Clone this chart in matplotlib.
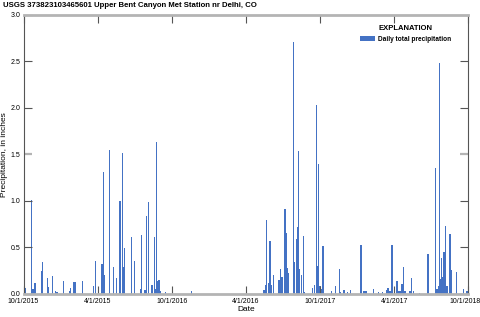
#!/usr/bin/env python3
"""Daily precipitation bar chart for Upper Bent Canyon Met Station."""

import matplotlib

matplotlib.use("Agg")
import matplotlib.pyplot as plt
import matplotlib.dates as mdates
import matplotlib.transforms as mtransforms
import numpy as np
import pandas as pd

START = pd.Timestamp("2015-10-01")

# days after 10/1/2015 with measurable precipitation
day_of_record = [
    1, 4, 19, 20, 23, 28, 45, 46, 59, 60, 72, 78, 82, 99, 113, 115, 123, 127,
    145, 172, 177, 193, 197, 200, 211, 212, 222, 229, 238, 243, 245, 249,
    266, 274, 288, 291, 299, 303, 308, 316, 317, 323, 326, 328, 330, 334,
    338, 349, 414,
    592, 596, 599, 604, 607, 610, 615, 629, 633, 637, 644, 647, 650, 653,
    665, 667, 674, 676, 678, 680, 684, 689, 691, 711, 716, 722, 725, 727,
    730, 733, 735, 738, 759, 768, 778, 780, 789, 798, 805,
    831, 833, 837, 841, 845, 862, 874, 884, 895, 898, 903, 907, 908, 913,
    920, 923, 927, 932, 936, 940, 952, 956, 960, 975, 996, 1014, 1018, 1022,
    1025, 1027, 1030, 1033, 1036, 1039, 1043, 1050, 1054, 1066, 1084, 1092,
]
precip_in = [
    0.18, 0.06, 0.98, 1.01, 0.05, 0.12, 0.25, 0.34, 0.17, 0.07, 0.19, 0.03, 0.02,
    0.14, 0.03, 0.06, 0.13, 0.13,
    0.14, 0.08, 0.35, 0.32, 1.31, 0.20, 1.55, 0.07, 0.29, 0.17, 1.00, 1.51, 0.29,
    0.49,
    0.61, 0.35, 0.05, 0.63, 0.04, 0.84, 0.99, 0.10, 0.05, 0.61, 0.05, 1.63, 0.14,
    0.15,
    0.03, 0.02, 0.03,
    0.04, 0.10, 0.79, 0.12, 0.57, 0.09, 0.20, 0.15, 0.27, 0.18, 0.91, 0.65, 0.28,
    0.22,
    2.71, 0.34, 0.59, 0.72, 1.54, 0.27, 0.20, 0.62, 0.02, 0.06, 0.10, 2.03, 0.30,
    1.40,
    0.08, 0.05, 0.03, 0.52, 0.03, 0.08, 0.27, 0.02, 0.04, 0.02, 0.04,
    0.53, 0.09, 0.03, 0.03, 0.03, 0.05, 0.02, 0.02, 0.04, 0.06, 0.03, 0.10, 0.53,
    0.07,
    0.14, 0.03, 0.03, 0.11, 0.29, 0.03, 0.03, 0.17, 0.03, 0.01, 0.43, 1.35, 0.05,
    0.08,
    2.48, 0.16, 0.39, 0.18, 0.45, 0.73, 0.08, 0.64, 0.26, 0.23, 0.05, 0.03,
]

tick_dates = ["2015-10-01", "2016-04-01", "2016-10-01", "2017-04-01",
              "2017-10-01", "2018-04-01", "2018-10-01"]
tick_labels = ["10/1/2015", "4/1/2015", "10/1/2016", "4/1/2016",
               "10/1/2017", "4/1/2017", "10/1/2018"]

plt.rcParams["font.family"] = ["Liberation Sans", "DejaVu Sans"]

BAR = "#4472c4"
SPINE_DARK = "#555555"
SPINE_GRAY = "#b4b4b4"

dates = [START + pd.Timedelta(days=d) for d in day_of_record]

fig = plt.figure(figsize=(4.81, 3.17), dpi=100)
ax = fig.add_axes([0.049, 0.073, 0.925, 0.880])

ax.bar(dates, precip_in, width=3.4, color=BAR, linewidth=0,
       label="Daily total precipitation")

ax.set_xlim(pd.Timestamp(tick_dates[0]), pd.Timestamp(tick_dates[-1]))
ax.set_ylim(0, 3.0)
ax.set_xticks([mdates.date2num(pd.Timestamp(t)) for t in tick_dates])
ax.set_xticklabels(tick_labels)
ax.set_yticks(np.arange(0, 3.01, 0.5))
ax.set_yticklabels([f"{v:.1f}" for v in np.arange(0, 3.01, 0.5)],
                   va="center_baseline")

ax.tick_params(direction="in", length=5.5, width=0.8, color=SPINE_DARK,
               labelsize=5, pad=2.5, top=True, right=True)
ax.tick_params(axis="x", pad=3)
for side in ("left", "right"):
    ax.spines[side].set_color(SPINE_DARK)
    ax.spines[side].set_linewidth(0.8)
for side in ("top", "bottom"):
    ax.spines[side].set_color(SPINE_GRAY)
    ax.spines[side].set_linewidth(2.0)

# the 1.5 tick is drawn in the lighter gray, like the frame
mid = ax.yaxis.get_major_ticks()[3]
for ln in (mid.tick1line, mid.tick2line):
    ln.set_markeredgecolor(SPINE_GRAY)
    ln.set_markeredgewidth(1.6)

# last date label sits flush with the right edge of the figure
last = ax.get_xticklabels()[-1]
last.set_transform(last.get_transform()
                   + mtransforms.ScaledTranslation(-3 / 100, 0, fig.dpi_scale_trans))

ax.set_ylabel("Precipitation, in inches", fontsize=6)
ax.yaxis.set_label_coords(-0.034, 0.5)
ax.set_xlabel("Date", fontsize=6)
ax.xaxis.set_label_coords(0.5, -0.043)

fig.text(0.006, 0.994, "USGS 373823103465601 Upper Bent Canyon Met Station nr Delhi, CO",
         fontsize=5.6, fontweight="bold", ha="left", va="top")

leg = ax.legend(loc="upper right", bbox_to_anchor=(0.962, 0.962), frameon=False,
                title="EXPLANATION", fontsize=4.7, handlelength=2.3,
                handleheight=0.6, handletextpad=0.5, borderpad=0.0,
                borderaxespad=0.0)
leg.get_title().set_fontweight("bold")
leg.get_title().set_fontsize(5.5)
for txt in leg.get_texts():
    txt.set_fontweight("bold")

fig.savefig("out.png", dpi=100)
